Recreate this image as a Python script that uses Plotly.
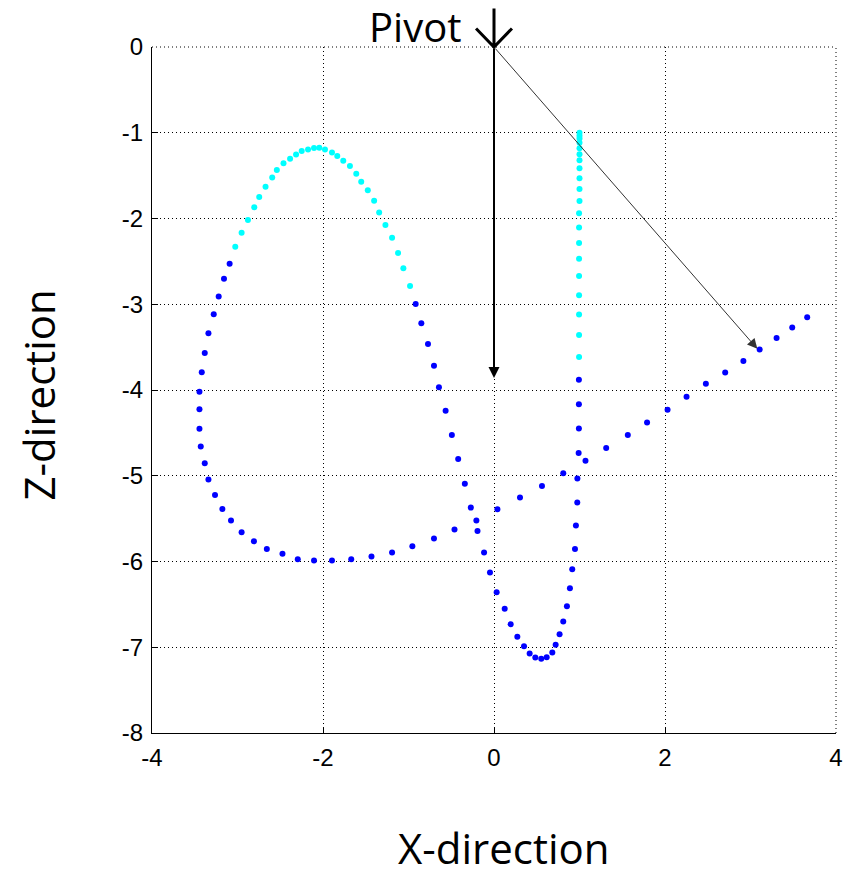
import plotly.graph_objects as go

# Trajectory of the bob (X, Z) in plotting order
x_pos = [1.0, 1.0, 1.0, 1.0, 1.0, 1.0, 1.0, 1.0, 1.0, 1.0,
         1.0, 0.995, 0.995, 0.995, 0.995, 0.995, 0.995, 0.995, 0.995, 0.995,
         0.993, 0.993, 0.993, 0.99, 0.975, 0.974, 0.958, 0.947, 0.915, 0.888,
         0.853, 0.810, 0.767, 0.721, 0.682, 0.616, 0.553, 0.483, 0.417, 0.351,
         0.273, 0.195, 0.125, 0.031, -0.047, -0.116, -0.193, -0.271, -0.341, -0.419,
         -0.493, -0.566, -0.644, -0.702, -0.772, -0.850, -0.916, -0.982, -1.060, -1.122,
         -1.192, -1.270, -1.343, -1.402, -1.476, -1.553, -1.611, -1.685, -1.763, -1.833,
         -1.895, -1.977, -2.043, -2.105, -2.175, -2.249, -2.315, -2.385, -2.462, -2.540,
         -2.594, -2.672, -2.746, -2.804, -2.878, -2.952, -3.026, -3.092, -3.158, -3.220,
         -3.278, -3.340, -3.383, -3.418, -3.445, -3.445, -3.445, -3.430, -3.383, -3.340,
         -3.263, -3.177, -3.076, -2.952, -2.808, -2.657, -2.474, -2.295, -2.105, -1.895,
         -1.670, -1.433, -1.192, -0.955, -0.702, -0.462, -0.206, 0.040, 0.304, 0.561,
         0.810, 1.070, 1.312, 1.565, 1.790, 2.030, 2.252, 2.478, 2.704, 2.917,
         3.107, 3.305, 3.488, 3.663]
z_pos = [-1.0, -1.035, -1.066, -1.116, -1.182, -1.252, -1.322, -1.415, -1.532, -1.656,
         -1.796, -1.94, -2.105, -2.285, -2.47, -2.67, -2.895, -3.12, -3.36, -3.615,
         -3.88, -4.165, -4.45, -4.735, -5.033, -5.313, -5.581, -5.853, -6.090, -6.312,
         -6.521, -6.700, -6.848, -6.972, -7.061, -7.116, -7.135, -7.120, -7.073, -6.988,
         -6.879, -6.731, -6.552, -6.358, -6.129, -5.896, -5.643, -5.371, -5.092, -4.804,
         -4.524, -4.241, -3.969, -3.716, -3.463, -3.222, -2.997, -2.787, -2.581, -2.402,
         -2.224, -2.076, -1.929, -1.793, -1.672, -1.571, -1.478, -1.388, -1.326, -1.272,
         -1.229, -1.194, -1.175, -1.179, -1.194, -1.214, -1.253, -1.303, -1.357, -1.435,
         -1.521, -1.629, -1.750, -1.870, -2.018, -2.166, -2.329, -2.527, -2.702, -2.911,
         -3.117, -3.339, -3.568, -3.793, -4.019, -4.225, -4.451, -4.660, -4.855, -5.045,
         -5.224, -5.387, -5.523, -5.659, -5.764, -5.853, -5.911, -5.974, -5.989, -5.989,
         -5.974, -5.943, -5.896, -5.822, -5.733, -5.628, -5.523, -5.391, -5.255, -5.119,
         -4.971, -4.824, -4.675, -4.525, -4.379, -4.229, -4.078, -3.928, -3.796, -3.661,
         -3.529, -3.393, -3.272, -3.152]
# 1 = cyan-highlighted sample, 0 = blue sample
highlight = [1] * 20 + [0] * 37 + [1] * 30 + [0] * 47

start_point = [1.0, -1.0]
pivot = [0.0, 0.0]
vertical_vec_end = [0.0, -3.86]
string_vec_end = [3.08, -3.52]

x_ticks = [-4, -2, 0, 2, 4]
z_ticks = [0, -1, -2, -3, -4, -5, -6, -7, -8]

cx = [x for x, h in zip(x_pos, highlight) if h]
cz = [z for z, h in zip(z_pos, highlight) if h]
bx = [x for x, h in zip(x_pos, highlight) if not h]
bz = [z for z, h in zip(z_pos, highlight) if not h]

fig = go.Figure()
fig.add_trace(go.Scatter(x=bx, y=bz, mode="markers",
                         marker=dict(color="#0000ff", size=6, symbol="circle"),
                         showlegend=False))
fig.add_trace(go.Scatter(x=cx, y=cz, mode="markers",
                         marker=dict(color="#00ffff", size=6, symbol="circle"),
                         showlegend=False))
fig.add_trace(go.Scatter(x=[start_point[0]], y=[start_point[1]], mode="markers",
                         marker=dict(color="rgba(0,0,0,0)", size=16, symbol="circle-open",
                                     line=dict(color="#00ff00", width=1)),
                         showlegend=False))

# vectors from pivot
fig.add_annotation(x=vertical_vec_end[0], y=vertical_vec_end[1], ax=pivot[0], ay=pivot[1],
                   xref="x", yref="y", axref="x", ayref="y", text="", showarrow=True,
                   arrowhead=2, arrowsize=1.1, arrowwidth=2, arrowcolor="black")
fig.add_annotation(x=string_vec_end[0], y=string_vec_end[1], ax=pivot[0], ay=pivot[1],
                   xref="x", yref="y", axref="x", ayref="y", text="", showarrow=True,
                   arrowhead=2, arrowsize=2, arrowwidth=1, arrowcolor="#333333")

# Pivot label
fig.add_annotation(x=pivot[0], y=pivot[1], xref="x", yref="y", text="Pivot",
                   showarrow=False, xanchor="right", yanchor="bottom", xshift=-31, yshift=-9,
                   font=dict(family="Open Sans", size=40, color="black"))
# open down-arrow glyph pointing at the pivot
ah = 0.21   # half width of arrow head (x data units)
fig.add_shape(type="path", xref="x", yref="paper", layer="above",
              path=f"M {pivot[0]} 1.056 L {pivot[0]} 1.0 M {pivot[0]-ah} 1.027 L {pivot[0]} 1.0 L {pivot[0]+ah} 1.027",
              line=dict(color="black", width=3))

# top / right dotted frame (grid lines at range edges)
fig.add_shape(type="line", xref="paper", yref="paper", x0=0, x1=1, y0=1, y1=1,
              line=dict(color="black", width=1, dash="1px,3px"))
fig.add_shape(type="line", xref="paper", yref="paper", x0=1, x1=1, y0=0, y1=1,
              line=dict(color="black", width=1, dash="1px,3px"))

# axis titles
fig.add_annotation(xref="paper", yref="paper", x=0.515, y=-0.167, text="X-direction",
                   showarrow=False, xanchor="center", yanchor="middle",
                   font=dict(family="Open Sans", size=42, color="black"))
fig.add_annotation(xref="paper", yref="paper", x=-0.166, y=0.4927, text="Z-direction",
                   showarrow=False, xanchor="center", yanchor="middle", textangle=-90,
                   font=dict(family="Open Sans", size=42, color="black"))

axis_common = dict(showline=True, linecolor="black", linewidth=1,
                   ticks="inside", ticklen=6, tickcolor="black",
                   showgrid=True, gridcolor="black", gridwidth=1, griddash="1px,3px",
                   zeroline=False, mirror=False, ticklabelstandoff=3,
                   ticklabeloverflow="allow", automargin=False,
                   tickfont=dict(family="Liberation Sans", size=24, color="black"))

fig.update_xaxes(range=[-4, 4], tickvals=x_ticks, ticktext=[str(v) for v in x_ticks],
                 **axis_common)
fig.update_yaxes(range=[-8, 0], tickvals=z_ticks, ticktext=[str(v) for v in z_ticks],
                 **axis_common)

fig.update_layout(width=843, height=870, plot_bgcolor="white", paper_bgcolor="white",
                  margin=dict(l=152, r=7, t=47, b=137), showlegend=False)

fig.write_html("out.html", config={"displayModeBar": False},
               post_script="document.body.style.margin='0px';")
